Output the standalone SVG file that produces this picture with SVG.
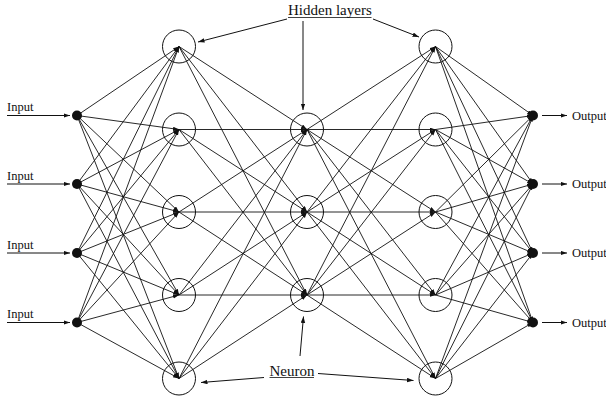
<svg xmlns="http://www.w3.org/2000/svg" width="606" height="398" viewBox="0 0 606 398">
<style>
.c{stroke:#111;stroke-width:0.9;fill:none;marker-end:url(#ah)}
.neu{fill:none;stroke:#111;stroke-width:1}
.dot{fill:#111}
.t{font-family:"Liberation Serif","Times New Roman",serif;fill:#111}
.s{font-size:12.5px}
.b{font-size:15px}
.u{stroke:#111;stroke-width:0.8}
.la{stroke:#111;stroke-width:1;fill:none;marker-end:url(#ah2)}
</style>
<defs>
<marker id="ah" markerUnits="userSpaceOnUse" markerWidth="8" markerHeight="6" refX="6" refY="2" orient="auto">
<path d="M0,0 L6,2 L0,4 Z" fill="#111"/>
</marker>
<marker id="ah2" markerUnits="userSpaceOnUse" markerWidth="8" markerHeight="6" refX="6.5" refY="2.25" orient="auto">
<path d="M0,0 L6.5,2.25 L0,4.5 Z" fill="#111"/>
</marker>
</defs>
<g id="connectors">
<!-- inputs to hidden 1 -->
<line class="c" x1="77" y1="115.5" x2="179" y2="46.5"/>
<line class="c" x1="77" y1="115.5" x2="179" y2="129.5"/>
<line class="c" x1="77" y1="115.5" x2="179" y2="212"/>
<line class="c" x1="77" y1="115.5" x2="179" y2="295"/>
<line class="c" x1="77" y1="115.5" x2="179" y2="378.5"/>
<line class="c" x1="77" y1="184" x2="179" y2="46.5"/>
<line class="c" x1="77" y1="184" x2="179" y2="129.5"/>
<line class="c" x1="77" y1="184" x2="179" y2="212"/>
<line class="c" x1="77" y1="184" x2="179" y2="295"/>
<line class="c" x1="77" y1="184" x2="179" y2="378.5"/>
<line class="c" x1="77" y1="253" x2="179" y2="46.5"/>
<line class="c" x1="77" y1="253" x2="179" y2="129.5"/>
<line class="c" x1="77" y1="253" x2="179" y2="212"/>
<line class="c" x1="77" y1="253" x2="179" y2="295"/>
<line class="c" x1="77" y1="253" x2="179" y2="378.5"/>
<line class="c" x1="77" y1="322.5" x2="179" y2="46.5"/>
<line class="c" x1="77" y1="322.5" x2="179" y2="129.5"/>
<line class="c" x1="77" y1="322.5" x2="179" y2="212"/>
<line class="c" x1="77" y1="322.5" x2="179" y2="295"/>
<line class="c" x1="77" y1="322.5" x2="179" y2="378.5"/>
<!-- hidden 1 to hidden 2 -->
<line class="c" x1="179" y1="46.5" x2="307" y2="129.5"/>
<line class="c" x1="179" y1="46.5" x2="307" y2="212"/>
<line class="c" x1="179" y1="46.5" x2="307" y2="295"/>
<line class="c" x1="179" y1="129.5" x2="307" y2="129.5"/>
<line class="c" x1="179" y1="129.5" x2="307" y2="212"/>
<line class="c" x1="179" y1="129.5" x2="307" y2="295"/>
<line class="c" x1="179" y1="212" x2="307" y2="129.5"/>
<line class="c" x1="179" y1="212" x2="307" y2="212"/>
<line class="c" x1="179" y1="212" x2="307" y2="295"/>
<line class="c" x1="179" y1="295" x2="307" y2="129.5"/>
<line class="c" x1="179" y1="295" x2="307" y2="212"/>
<line class="c" x1="179" y1="295" x2="307" y2="295"/>
<line class="c" x1="179" y1="378.5" x2="307" y2="129.5"/>
<line class="c" x1="179" y1="378.5" x2="307" y2="212"/>
<line class="c" x1="179" y1="378.5" x2="307" y2="295"/>
<!-- hidden 2 to hidden 3 -->
<line class="c" x1="307" y1="129.5" x2="435.5" y2="46.5"/>
<line class="c" x1="307" y1="129.5" x2="435.5" y2="129.5"/>
<line class="c" x1="307" y1="129.5" x2="435.5" y2="212"/>
<line class="c" x1="307" y1="129.5" x2="435.5" y2="295"/>
<line class="c" x1="307" y1="129.5" x2="435.5" y2="378.5"/>
<line class="c" x1="307" y1="212" x2="435.5" y2="46.5"/>
<line class="c" x1="307" y1="212" x2="435.5" y2="129.5"/>
<line class="c" x1="307" y1="212" x2="435.5" y2="212"/>
<line class="c" x1="307" y1="212" x2="435.5" y2="295"/>
<line class="c" x1="307" y1="212" x2="435.5" y2="378.5"/>
<line class="c" x1="307" y1="295" x2="435.5" y2="46.5"/>
<line class="c" x1="307" y1="295" x2="435.5" y2="129.5"/>
<line class="c" x1="307" y1="295" x2="435.5" y2="212"/>
<line class="c" x1="307" y1="295" x2="435.5" y2="295"/>
<line class="c" x1="307" y1="295" x2="435.5" y2="378.5"/>
<!-- hidden 3 to outputs -->
<line class="c" x1="435.5" y1="46.5" x2="533" y2="115.5"/>
<line class="c" x1="435.5" y1="46.5" x2="533" y2="184"/>
<line class="c" x1="435.5" y1="46.5" x2="533" y2="253"/>
<line class="c" x1="435.5" y1="46.5" x2="533" y2="322.5"/>
<line class="c" x1="435.5" y1="129.5" x2="533" y2="115.5"/>
<line class="c" x1="435.5" y1="129.5" x2="533" y2="184"/>
<line class="c" x1="435.5" y1="129.5" x2="533" y2="253"/>
<line class="c" x1="435.5" y1="129.5" x2="533" y2="322.5"/>
<line class="c" x1="435.5" y1="212" x2="533" y2="115.5"/>
<line class="c" x1="435.5" y1="212" x2="533" y2="184"/>
<line class="c" x1="435.5" y1="212" x2="533" y2="253"/>
<line class="c" x1="435.5" y1="212" x2="533" y2="322.5"/>
<line class="c" x1="435.5" y1="295" x2="533" y2="115.5"/>
<line class="c" x1="435.5" y1="295" x2="533" y2="184"/>
<line class="c" x1="435.5" y1="295" x2="533" y2="253"/>
<line class="c" x1="435.5" y1="295" x2="533" y2="322.5"/>
<line class="c" x1="435.5" y1="378.5" x2="533" y2="115.5"/>
<line class="c" x1="435.5" y1="378.5" x2="533" y2="184"/>
<line class="c" x1="435.5" y1="378.5" x2="533" y2="253"/>
<line class="c" x1="435.5" y1="378.5" x2="533" y2="322.5"/>
<!-- input / output arrows -->
<line class="la" x1="7" y1="115.5" x2="70" y2="115.5"/>
<line class="la" x1="7" y1="184" x2="70" y2="184"/>
<line class="la" x1="7" y1="253" x2="70" y2="253"/>
<line class="la" x1="7" y1="322.5" x2="70" y2="322.5"/>
<line class="la" x1="542" y1="115.5" x2="567" y2="115.5"/>
<line class="la" x1="542" y1="184" x2="567" y2="184"/>
<line class="la" x1="542" y1="253" x2="567" y2="253"/>
<line class="la" x1="542" y1="322.5" x2="567" y2="322.5"/>
<!-- label arrows -->
<line class="la" x1="287" y1="19" x2="198" y2="42"/>
<line class="la" x1="303" y1="21" x2="303" y2="110"/>
<line class="la" x1="373" y1="19" x2="419" y2="37"/>
<line class="la" x1="264" y1="377.5" x2="201" y2="382.5"/>
<line class="la" x1="300" y1="356" x2="303.5" y2="316.5"/>
<line class="la" x1="318" y1="373.5" x2="413.5" y2="380.5"/>
</g>
<g id="input1"><circle class="dot" cx="77" cy="115.5" r="5"/><text class="t s" x="7" y="111">Input</text></g>
<g id="input2"><circle class="dot" cx="77" cy="184" r="5"/><text class="t s" x="7" y="179.5">Input</text></g>
<g id="input3"><circle class="dot" cx="77" cy="253" r="5"/><text class="t s" x="7" y="248.5">Input</text></g>
<g id="input4"><circle class="dot" cx="77" cy="322.5" r="5"/><text class="t s" x="7" y="318">Input</text></g>
<g id="h1n1"><circle class="neu" cx="179" cy="46.5" r="16.5"/></g>
<g id="h1n2"><circle class="neu" cx="179" cy="129.5" r="16.5"/></g>
<g id="h1n3"><circle class="neu" cx="179" cy="212" r="16.5"/></g>
<g id="h1n4"><circle class="neu" cx="179" cy="295" r="16.5"/></g>
<g id="h1n5"><circle class="neu" cx="179" cy="378.5" r="16.5"/></g>
<g id="h2n1"><circle class="neu" cx="307" cy="129.5" r="16.5"/></g>
<g id="h2n2"><circle class="neu" cx="307" cy="212" r="16.5"/></g>
<g id="h2n3"><circle class="neu" cx="307" cy="295" r="16.5"/></g>
<g id="h3n1"><circle class="neu" cx="435.5" cy="46.5" r="16.5"/></g>
<g id="h3n2"><circle class="neu" cx="435.5" cy="129.5" r="16.5"/></g>
<g id="h3n3"><circle class="neu" cx="435.5" cy="212" r="16.5"/></g>
<g id="h3n4"><circle class="neu" cx="435.5" cy="295" r="16.5"/></g>
<g id="h3n5"><circle class="neu" cx="435.5" cy="378.5" r="16.5"/></g>
<g id="output1"><circle class="dot" cx="533" cy="115.5" r="5"/><text class="t s" x="572" y="119.5">Output</text></g>
<g id="output2"><circle class="dot" cx="533" cy="184" r="5"/><text class="t s" x="572" y="188">Output</text></g>
<g id="output3"><circle class="dot" cx="533" cy="253" r="5"/><text class="t s" x="572" y="257">Output</text></g>
<g id="output4"><circle class="dot" cx="533" cy="322.5" r="5"/><text class="t s" x="572" y="326.5">Output</text></g>
<g id="label-hidden"><text class="t b" x="288" y="15">Hidden layers</text><line class="u" x1="288" y1="17.5" x2="371.5" y2="17.5"/></g>
<g id="label-neuron"><text class="t b" x="269.5" y="375.5">Neuron</text><line class="u" x1="269.5" y1="377.5" x2="314" y2="377.5"/></g>
</svg>
